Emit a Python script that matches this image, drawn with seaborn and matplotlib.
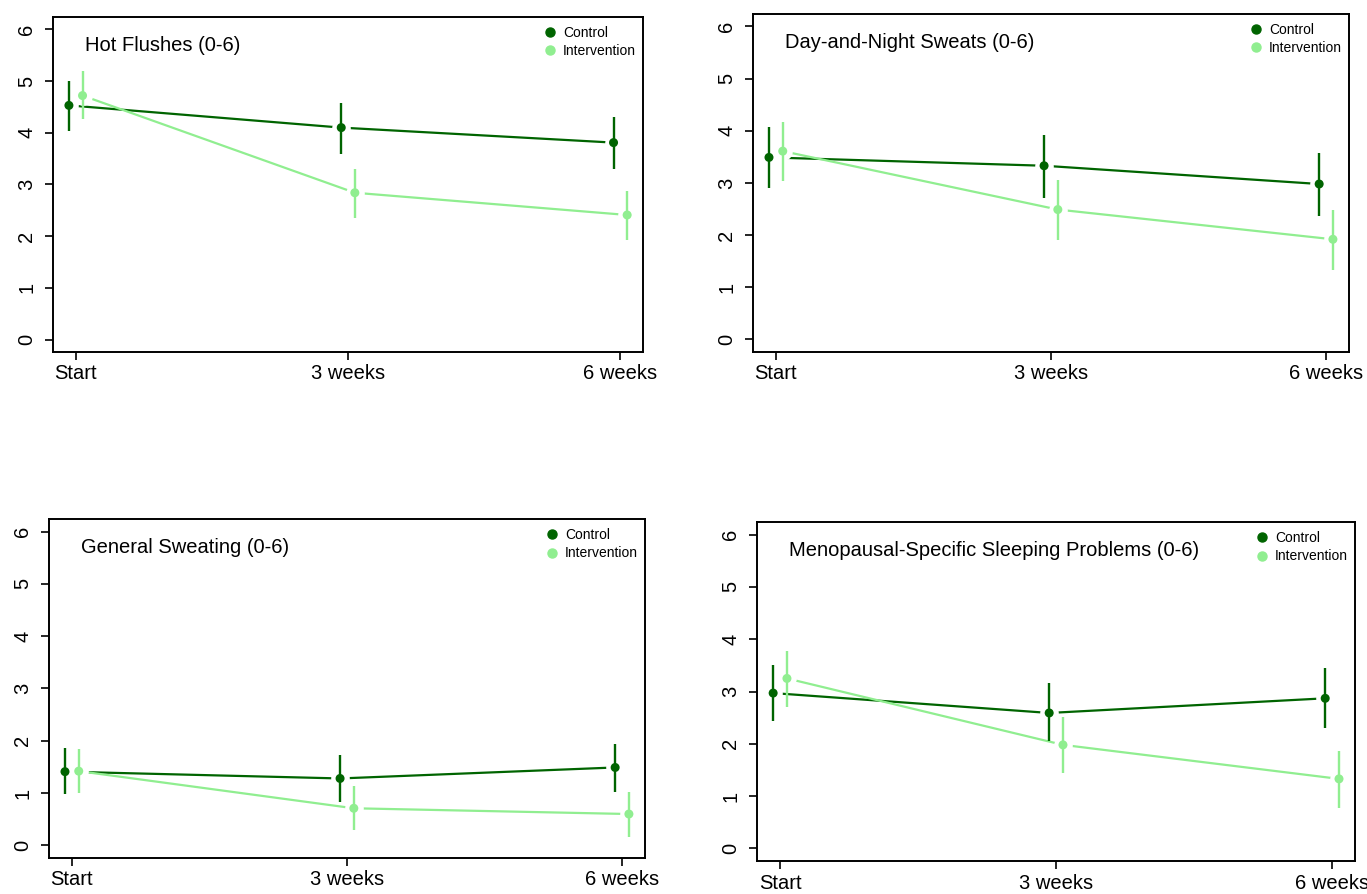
import numpy as np
import pandas as pd
import matplotlib
matplotlib.use('Agg')
import matplotlib.pyplot as plt
import seaborn as sns
from matplotlib.lines import Line2D

weeks = [0, 3, 6]
time_labels = ['Start', '3 weeks', '6 weeks']
groups = ['Control', 'Intervention']

panel_titles = [
    'Hot Flushes (0-6)',
    'Day-and-Night Sweats (0-6)',
    'General Sweating (0-6)',
    'Menopausal-Specific Sleeping Problems (0-6)',
]

# Hot flushes
hot_ctrl = [4.53, 4.10, 3.81]
hot_ctrl_lo = [4.04, 3.59, 3.30]
hot_ctrl_hi = [5.01, 4.58, 4.30]
hot_int = [4.72, 2.84, 2.41]
hot_int_lo = [4.26, 2.36, 1.93]
hot_int_hi = [5.20, 3.30, 2.88]

# Day-and-night sweats
sweat_ctrl = [3.49, 3.33, 2.98]
sweat_ctrl_lo = [2.90, 2.72, 2.37]
sweat_ctrl_hi = [4.08, 3.92, 3.58]
sweat_int = [3.61, 2.49, 1.92]
sweat_int_lo = [3.04, 1.91, 1.34]
sweat_int_hi = [4.17, 3.06, 2.48]

# General sweating
gen_ctrl = [1.41, 1.28, 1.49]
gen_ctrl_lo = [0.98, 0.83, 1.03]
gen_ctrl_hi = [1.86, 1.72, 1.94]
gen_int = [1.42, 0.71, 0.60]
gen_int_lo = [1.00, 0.29, 0.17]
gen_int_hi = [1.84, 1.14, 1.03]

# Sleeping problems
sleep_ctrl = [2.97, 2.59, 2.87]
sleep_ctrl_lo = [2.43, 2.05, 2.31]
sleep_ctrl_hi = [3.51, 3.16, 3.45]
sleep_int = [3.25, 1.98, 1.33]
sleep_int_lo = [2.71, 1.45, 0.78]
sleep_int_hi = [3.78, 2.52, 1.86]

panel_data = [
    (hot_ctrl, hot_ctrl_lo, hot_ctrl_hi, hot_int, hot_int_lo, hot_int_hi),
    (sweat_ctrl, sweat_ctrl_lo, sweat_ctrl_hi, sweat_int, sweat_int_lo, sweat_int_hi),
    (gen_ctrl, gen_ctrl_lo, gen_ctrl_hi, gen_int, gen_int_lo, gen_int_hi),
    (sleep_ctrl, sleep_ctrl_lo, sleep_ctrl_hi, sleep_int, sleep_int_lo, sleep_int_hi),
]

colors = {'Control': '#006400', 'Intervention': '#90EE90'}
dodge = {'Control': -0.075, 'Intervention': 0.075}

sns.set_theme(style='ticks')
plt.rcParams['font.family'] = ['Liberation Sans', 'DejaVu Sans']
plt.rcParams['axes.edgecolor'] = 'black'
plt.rcParams['xtick.color'] = 'black'
plt.rcParams['ytick.color'] = 'black'
plt.rcParams['text.color'] = 'black'

fig = plt.figure(figsize=(13.67, 8.94), dpi=100)
ax_pos = [
    [0.0388, 0.6063, 0.4316, 0.3747],
    [0.5508, 0.6063, 0.4360, 0.3781],
    [0.0358, 0.0403, 0.4360, 0.3792],
    [0.5538, 0.0369, 0.4375, 0.3792],
]


def long_frame(vals):
    c, c_lo, c_hi, i, i_lo, i_hi = vals
    rows = []
    for g, m, lo, hi in [('Control', c, c_lo, c_hi), ('Intervention', i, i_lo, i_hi)]:
        for w, mv, lv, hv in zip(weeks, m, lo, hi):
            rows.append({'group': g, 'week': w, 'xpos': w + dodge[g],
                         'mean': mv, 'lo': lv, 'hi': hv})
    return pd.DataFrame(rows)


for pos, title, vals in zip(ax_pos, panel_titles, panel_data):
    ax = fig.add_axes(pos)
    df = long_frame(vals)
    ax.set_xlim(-0.25, 6.25)
    ax.set_ylim(-0.24, 6.24)

    z = 2
    for g in groups:
        sub = df[df['group'] == g]
        sns.lineplot(data=sub, x='xpos', y='mean', color=colors[g], lw=1.6,
                     estimator=None, sort=False, legend=False, ax=ax, zorder=z)
        # white gaps around the points, like R's type="b"
        ax.scatter(sub['xpos'], sub['mean'], s=180, color='white',
                   linewidths=0, zorder=z + 0.1)
        z += 0.2
    for g in groups:
        sub = df[df['group'] == g]
        ax.vlines(sub['xpos'], sub['lo'], sub['hi'], color=colors[g], lw=1.7, zorder=4)
    sns.scatterplot(data=df, x='xpos', y='mean', hue='group', palette=colors,
                    s=42, linewidth=0, legend=False, ax=ax, zorder=5)

    ax.set_xticks(weeks, time_labels)
    ax.set_yticks(range(7))
    ax.set_xlabel('')
    ax.set_ylabel('')
    ax.tick_params(axis='both', direction='out', length=6, width=1.2, labelsize=14.5)
    ax.tick_params(axis='x', pad=3)
    ax.tick_params(axis='y', pad=6, labelrotation=90)
    for lab in ax.get_yticklabels():
        lab.set_va('center')
    for sp in ax.spines.values():
        sp.set_visible(True)
        sp.set_linewidth(1.4)
        sp.set_color('black')

    ax.text(0.054, 0.916, title, transform=ax.transAxes, ha='left', va='center',
            fontsize=14.5)

    handles = [Line2D([], [], marker='o', ls='', color=colors[g], markersize=6.5)
               for g in groups]
    ax.legend(handles, groups, loc='upper right', bbox_to_anchor=(0.995, 0.985),
              frameon=False, fontsize=10, borderaxespad=0, borderpad=0.3,
              handlelength=0.8, handletextpad=0.5, labelspacing=0.3)

fig.savefig('out.png', dpi=100)
